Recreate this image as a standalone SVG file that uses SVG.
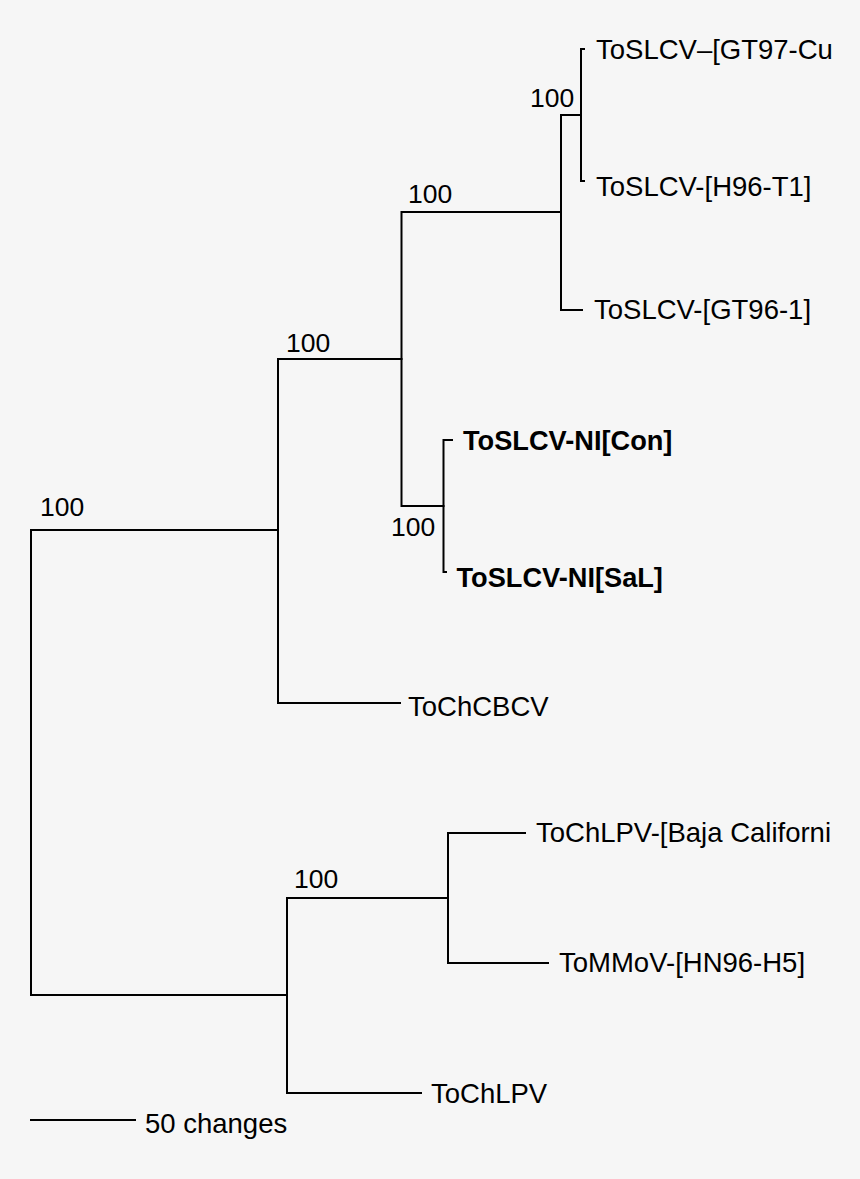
<svg xmlns="http://www.w3.org/2000/svg" width="860" height="1179" viewBox="0 0 860 1179">
<style>
.b{stroke:#000;stroke-width:2;fill:none;stroke-linecap:square}
text{font-family:"Liberation Sans",Arial,sans-serif;font-size:27.5px;fill:#000}
.n{font-size:26.5px}
.bold{font-weight:bold;font-size:27.2px}
</style>
<rect width="860" height="1179" fill="#f6f6f6"/>
<g id="connectors">
<path class="b" d="M31,530 V995 M31,530 H278 M31,995 H287"/>
<path class="b" d="M278,359 V703 M278,359 H401.5 M278,703 H400"/>
<path class="b" d="M401.5,212 V506 M401.5,212 H561 M401.5,506 H443.5"/>
<path class="b" d="M561,115 V310 M561,115 H581 M561,310 H582"/>
<path class="b" d="M581,49 V181 M581,49 H584 M581,181 H584"/>
<path class="b" d="M443.5,440 V572 M443.5,440 H452 M443.5,572 H446"/>
<path class="b" d="M287,898 V1093 M287,898 H448 M287,1093 H421"/>
<path class="b" d="M448,833 V963 M448,833 H525 M448,963 H548"/>
<path class="b" d="M31,1120 H135"/>
</g>
<g id="leaf-gt97"><text x="596" y="59">ToSLCV–[GT97-Cu</text></g>
<g id="leaf-h96"><text x="596" y="196">ToSLCV-[H96-T1]</text></g>
<g id="leaf-gt96"><text x="594" y="319">ToSLCV-[GT96-1]</text></g>
<g id="leaf-con"><text class="bold" x="463" y="450">ToSLCV-NI[Con]</text></g>
<g id="leaf-sal"><text class="bold" x="456.5" y="587">ToSLCV-NI[SaL]</text></g>
<g id="leaf-tochcbcv"><text x="408" y="716">ToChCBCV</text></g>
<g id="leaf-baja"><text x="536" y="842">ToChLPV-[Baja Californi</text></g>
<g id="leaf-tommov"><text x="559" y="972">ToMMoV-[HN96-H5]</text></g>
<g id="leaf-tochlpv"><text x="431" y="1103">ToChLPV</text></g>
<g id="bootstrap">
<text class="n" x="530" y="107">100</text>
<text class="n" x="408" y="203">100</text>
<text class="n" x="286" y="352">100</text>
<text class="n" x="391" y="536">100</text>
<text class="n" x="40" y="516">100</text>
<text class="n" x="294" y="888">100</text>
</g>
<g id="scale"><text x="145" y="1133">50 changes</text></g>
</svg>
